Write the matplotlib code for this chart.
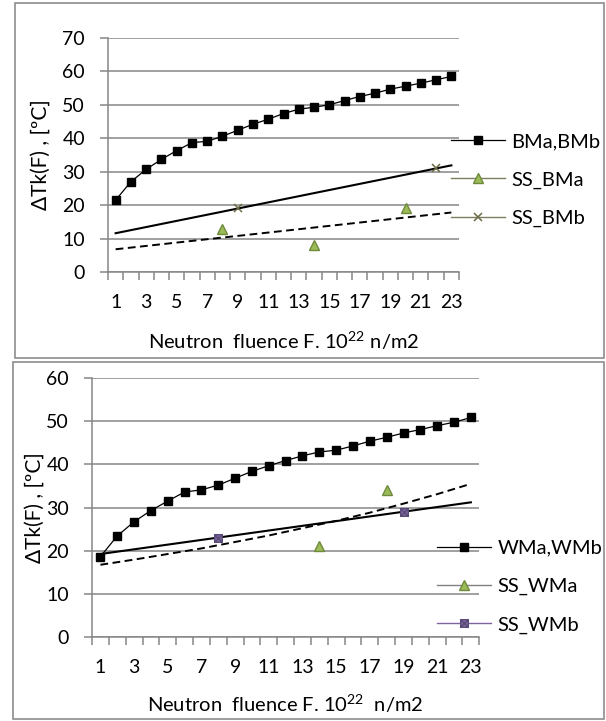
import numpy as np
import pandas as pd
import matplotlib
matplotlib.use("Agg")
import matplotlib.pyplot as plt
from matplotlib.patches import Rectangle
from matplotlib.path import Path

plt.rcParams['font.family'] = ['Lato', 'DejaVu Sans']
plt.rcParams['mathtext.fontset'] = 'custom'
plt.rcParams['mathtext.rm'] = 'Lato'

# categories of the x axis (neutron fluence, 10^22 n/m2)
fluence = list(range(1, 24))

# upper panel: base metal
bm_values = [21.5, 27.0, 30.7, 33.7, 36.3, 38.7, 39.1, 40.6, 42.4, 44.2, 45.7, 47.4,
             48.7, 49.3, 50.0, 51.3, 52.5, 53.5, 54.7, 55.6, 56.5, 57.5, 58.5]
ss_bma_x = [8, 14, 20]
ss_bma_y = [13, 8, 19]
ss_bmb_x = [9, 22]
ss_bmb_y = [19, 31]
trend_bmb_x = [1, 23]
trend_bmb_y = [11.6, 31.9]
trend_bma_x = [1, 23]
trend_bma_y = [6.8, 17.8]

# lower panel: weld metal
wm_values = [18.6, 23.4, 26.7, 29.3, 31.5, 33.6, 34.1, 35.2, 36.8, 38.4, 39.7, 40.9,
             42.0, 42.9, 43.3, 44.3, 45.4, 46.3, 47.3, 48.1, 49.0, 49.8, 50.9]
ss_wma_x = [14, 18]
ss_wma_y = [21, 34]
ss_wmb_x = [8, 19]
ss_wmb_y = [23, 29]
trend_wmb_x = [1, 23]
trend_wmb_y = [19.2, 31.2]
trend_wma_x = [1, 3, 5, 7, 9, 11, 13, 15, 17, 19, 21, 23]
trend_wma_y = [16.7, 17.9, 19.2, 20.5, 22.0, 23.5, 25.2, 26.9, 28.8, 30.9, 33.1, 35.5]

GRID = '#868686'
FS_TICK = 14
FS_TEXT = 14.5

# square with a cross inside, for SS_WMb
box_x_marker = Path(
    [(-1, -1), (1, -1), (1, 1), (-1, 1), (-1, -1), (-1, -1), (1, 1), (-1, 1), (1, -1)],
    [Path.MOVETO, Path.LINETO, Path.LINETO, Path.LINETO, Path.CLOSEPOLY,
     Path.MOVETO, Path.LINETO, Path.MOVETO, Path.LINETO])


def on_categories(xs, ys):
    return pd.Series(ys, index=xs, dtype=float).reindex(fluence)


def draw_panel(fig, rect, ymax, main, ss_a, ss_b, solid, dashed, xlabel, xlab_y, ylab_x,
               leg_anchor):
    ax = fig.add_axes(rect)
    ax.set_xlim(0.5, 23.5)
    ax.set_ylim(0, ymax)

    ax.plot(dashed[0], dashed[1], color='black', lw=1.4, ls=(0, (4, 2.3)), zorder=3)
    ax.plot(solid[0], solid[1], color='black', lw=1.5, zorder=3)

    h_main, = ax.plot(fluence, main[1], color='black', lw=0.9, marker='s', ms=6.2,
                      label=main[0], zorder=4)
    s = on_categories(ss_a[1], ss_a[2])
    h_a, = ax.plot(fluence, s.values, label=ss_a[0], zorder=5, **ss_a[3])
    s = on_categories(ss_b[1], ss_b[2])
    h_b, = ax.plot(fluence, s.values, label=ss_b[0], zorder=5, **ss_b[3])

    ax.set_yticks(np.arange(0, ymax + 1, 10))
    ax.yaxis.grid(True, color=GRID, lw=1.1)
    ax.set_axisbelow(True)
    for side in ['top', 'right']:
        ax.spines[side].set_visible(False)
    for side in ['left', 'bottom']:
        ax.spines[side].set_color(GRID)
        ax.spines[side].set_linewidth(1.1)

    ax.set_xticks(fluence)
    ax.set_xticklabels([str(c) if c % 2 else '' for c in fluence])
    ax.set_xticks(np.arange(0.5, 24, 1), minor=True)
    ax.tick_params(axis='x', which='major', length=0, pad=16, labelsize=FS_TICK)
    ax.tick_params(axis='x', which='minor', length=5.5, width=1.1, color=GRID, direction='out')
    ax.tick_params(axis='y', length=5.5, width=1.1, color=GRID, pad=11, labelsize=FS_TICK)

    ax.set_xlabel(xlabel, fontsize=FS_TEXT, va='center')
    ax.xaxis.set_label_coords(0.5, xlab_y)
    ax.set_ylabel('ΔTk(F) , [ºC]', fontsize=15, va='center', ha='center')
    ax.yaxis.set_label_coords(ylab_x, 0.5)

    ax.legend(handles=[h_main, h_a, h_b], loc='center left', bbox_to_anchor=leg_anchor,
              bbox_transform=fig.transFigure, frameon=False, fontsize=FS_TEXT,
              handlelength=2.7, handletextpad=0.3, labelspacing=1.05,
              borderpad=0, borderaxespad=0)
    return ax


def generate(output_path='out.png'):
    W, H = 606, 721
    fig = plt.figure(figsize=(W / 100, H / 100), dpi=100)
    fig.patch.set_facecolor('white')

    # frames around the two charts
    for x0, y0, x1, y1 in [(15, 3, 604, 358), (13, 362, 604, 719)]:
        fig.patches.append(Rectangle((x0 / W, 1 - y1 / H), (x1 - x0) / W, (y1 - y0) / H,
                                     transform=fig.transFigure, fill=False,
                                     edgecolor='#8c8c8c', lw=1.2))

    tri_style = dict(color='#7f7f5c', lw=1.0, marker='^', ms=6.5,
                     markerfacecolor='#9bbb59', markeredgecolor='#6f8a3c')
    draw_panel(fig, [108 / W, 1 - 272 / H, 351 / W, 234 / H], 70,
               ('BMa,BMb', bm_values),
               ('SS_BMa', ss_bma_x, ss_bma_y, tri_style),
               ('SS_BMb', ss_bmb_x, ss_bmb_y,
                dict(color='#7f7f5c', lw=1.0, marker='x', ms=6, mew=1.1,
                     markeredgecolor='#6b6b45')),
               (trend_bmb_x, trend_bmb_y), (trend_bma_x, trend_bma_y),
               r'Neutron  fluence F. 10$^{\mathrm{22}}$ n/m2', -0.295, -0.191,
               (451 / W, 1 - 180 / H))

    tri_style2 = dict(tri_style, color='#808080')
    draw_panel(fig, [92 / W, 1 - 636.7 / H, 387.3 / W, 258.4 / H], 60,
               ('WMa,WMb', wm_values),
               ('SS_WMa', ss_wma_x, ss_wma_y, tri_style2),
               ('SS_WMb', ss_wmb_x, ss_wmb_y,
                dict(color='#8064a2', lw=1.0, marker=box_x_marker, ms=5.5, mew=1.0,
                     markerfacecolor='#7d6c9c', markeredgecolor='#5a4a7a')),
               (trend_wmb_x, trend_wmb_y), (trend_wma_x, trend_wma_y),
               r'Neutron  fluence F. 10$^{\mathrm{22}}$  n/m2', -0.257, -0.147,
               (437 / W, 1 - 586.7 / H))

    fig.savefig(output_path, dpi=100, facecolor=fig.get_facecolor())
    plt.close(fig)
    return output_path


if __name__ == '__main__':
    generate()
